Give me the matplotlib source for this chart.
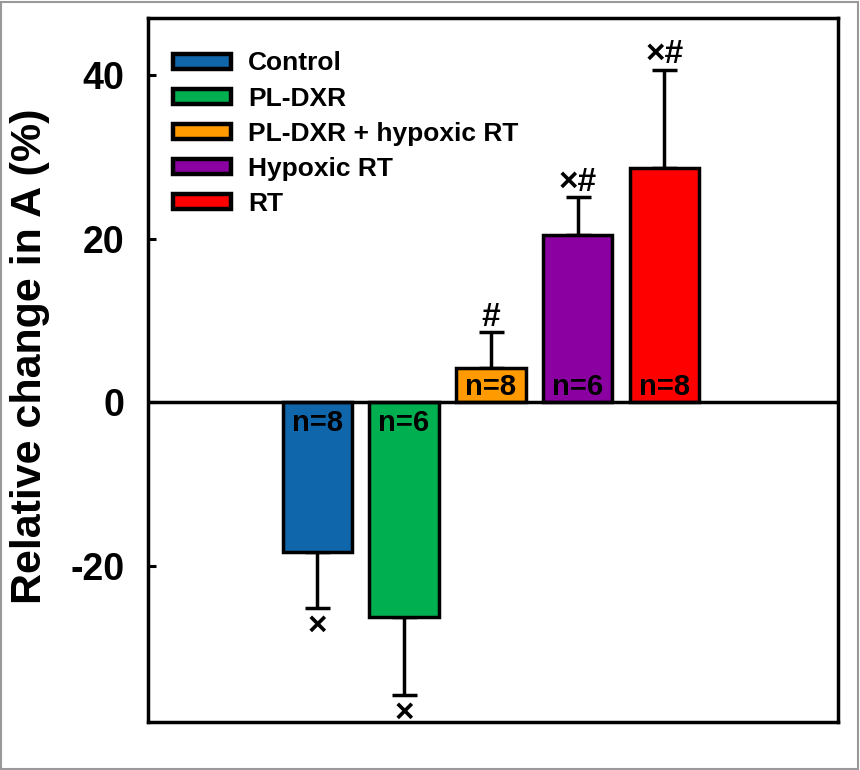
import matplotlib
matplotlib.use("Agg")
import matplotlib.pyplot as plt
from matplotlib.patches import Rectangle

categories = ["Control", "PL-DXR", "PL-DXR + hypoxic RT", "Hypoxic RT", "RT"]
values = [-18.3, -26.2, 4.2, 20.4, 28.7]
errors = [6.9, 9.6, 4.4, 4.7, 12.0]
n_labels = ["n=8", "n=6", "n=8", "n=6", "n=8"]
sig_labels = ["×", "×", "#", "×#", "×#"]
colors = ["#1066AA", "#00B050", "#FF9A00", "#8A00A0", "#FF0000"]
yticks = [-20, 0, 20, 40]

plt.rcParams["font.family"] = ["Liberation Sans", "DejaVu Sans"]
plt.rcParams["font.weight"] = "bold"

fig = plt.figure(figsize=(8.6, 7.7), dpi=100)
ax = fig.add_axes([148/860, 1-722/770, (838-148)/860, (722-18)/770])

x = list(range(len(values)))
bars = ax.bar(x, values, width=0.8, color=colors, edgecolor="black", linewidth=2.5,
              label=categories, zorder=3)
for xi, v, e in zip(x, values, errors):
    lo, hi = (0, e) if v > 0 else (e, 0)
    ax.errorbar(xi, v, yerr=[[lo], [hi]], fmt="none", ecolor="black",
                elinewidth=2.5, capsize=9, capthick=2.5, zorder=2)

for xi, v, e, nl, sl in zip(x, values, errors, n_labels, sig_labels):
    if v > 0:
        ax.text(xi, 0.9, nl, ha="center", va="baseline", fontsize=21, fontweight="bold", zorder=4)
        ax.text(xi, v + e + 0.75, sl, ha="center", va="baseline", fontsize=24, fontweight="bold")
    else:
        ax.text(xi, -3.5, nl, ha="center", va="baseline", fontsize=21, fontweight="bold", zorder=4)
        ax.text(xi, v - e - 0.3, sl, ha="center", va="top", fontsize=24, fontweight="bold")

ax.axhline(0, color="black", linewidth=2.5, zorder=4)
ax.set_xlim(-1.95, 6.0)
ax.set_ylim(-39.1, 47.0)
ax.set_yticks(yticks)
ax.set_yticklabels([str(t) for t in yticks], fontsize=27, fontweight="bold")
ax.set_xticks([])
ax.tick_params(axis="y", direction="in", length=6, width=2.2, pad=17)
ax.set_ylabel("Relative change in A (%)", fontsize=31, fontweight="bold")
ax.yaxis.set_label_coords(-0.142, 0.52)
for s in ax.spines.values():
    s.set_linewidth(2.5)

leg = ax.legend(loc="upper left", bbox_to_anchor=(0.013, 0.975), frameon=False,
                fontsize=19, handlelength=2.2, handleheight=0.5, handletextpad=0.65,
                labelspacing=0.42, borderaxespad=0.2)
for t in leg.get_texts():
    t.set_fontweight("bold")
for h in leg.legend_handles:
    h.set_linewidth(3.2)

fig.patches.append(Rectangle((0.001, 0.001), 0.997, 0.997, transform=fig.transFigure,
                             fill=False, edgecolor="#999999", linewidth=1.5))

fig.savefig("out.png", dpi=100)
